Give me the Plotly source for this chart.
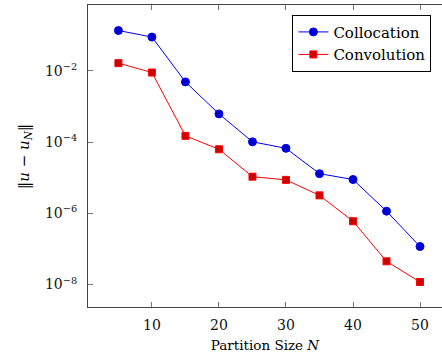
import plotly.graph_objects as go

N = [5, 10, 15, 20, 25, 30, 35, 40, 45, 50]
collocation = [0.136, 0.089, 4.9e-3, 6.2e-4, 1.02e-4, 6.7e-5, 1.3e-5, 8.9e-6, 1.15e-6, 1.17e-7]
convolution = [0.0165, 0.0090, 1.5e-4, 6.3e-5, 1.07e-5, 8.7e-6, 3.2e-6, 6.0e-7, 4.5e-8, 1.18e-8]

x_ticks = [10, 20, 30, 40, 50]
y_ticks = [1e-2, 1e-4, 1e-6, 1e-8]
y_ticktext = ["10<sup>−2</sup>", "10<sup>−4</sup>", "10<sup>−6</sup>", "10<sup>−8</sup>"]

FONT = "DejaVu Serif"

fig = go.Figure()
fig.add_trace(go.Scatter(
    x=N, y=collocation, name="Collocation", mode="lines+markers",
    line=dict(color="#0000ff", width=1),
    marker=dict(symbol="circle", size=8, color="#0000cc", line=dict(color="#0000ff", width=1)),
))
fig.add_trace(go.Scatter(
    x=N, y=convolution, name="Convolution", mode="lines+markers",
    line=dict(color="#ff0000", width=1),
    marker=dict(symbol="square", size=7, color="#cc0000", line=dict(color="#ff0000", width=1)),
))

axis_common = dict(
    showline=True, linecolor="#444444", linewidth=1,
    ticks="inside", ticklen=5, tickcolor="#777777", tickwidth=1,
    showgrid=False, zeroline=False,
    tickfont=dict(family=FONT, size=14, color="#111111"),
)

fig.update_layout(
    width=442, height=362,
    margin=dict(l=88, r=0, t=5, b=55, autoexpand=False),
    paper_bgcolor="white", plot_bgcolor="white",
    font=dict(family=FONT, size=14, color="black"),
    xaxis=dict(range=[0.46, 53.28], tickvals=x_ticks, mirror="ticks",
               ticklabelstandoff=5,
               title=dict(text="Partition Size <i>N</i>", font=dict(family=FONT, size=13.5), standoff=8),
               **axis_common),
    yaxis=dict(type="log", range=[-8.63, -0.15], tickvals=y_ticks, ticktext=y_ticktext,
               ticklabelstandoff=7, mirror=False, **axis_common),
    legend=dict(x=0.97, y=0.968, xanchor="right", yanchor="top",
                bordercolor="black", borderwidth=1, bgcolor="white",
                font=dict(family=FONT, size=15), tracegroupgap=0),
    showlegend=True,
    annotations=[dict(
        text="‖<i>u</i> − <i>u</i><sub><i>N</i></sub>‖", textangle=-90,
        xref="paper", yref="paper", x=-0.18, y=0.5, xanchor="center", yanchor="middle",
        showarrow=False, font=dict(family=FONT, size=15),
    )],
)

fig.write_html("out.html")
